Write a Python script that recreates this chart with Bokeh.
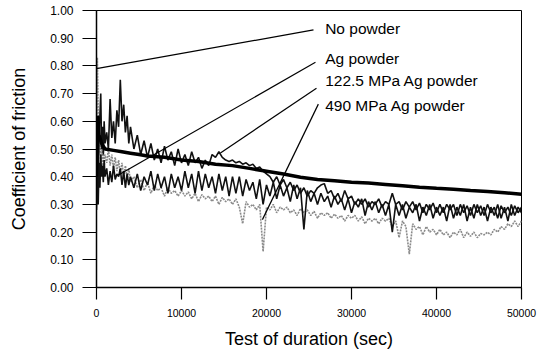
from bokeh.plotting import figure
from bokeh.models import FixedTicker, NumeralTickFormatter
from bokeh.embed import file_html
from bokeh.resources import INLINE

# ---- sample times (s) ----
t_early = list(range(0, 1001, 100)) + list(range(1200, 4001, 200)) + list(range(4400, 50001, 400))

# ---- No powder (smooth thick curve) ----
no_x = [0, 150, 300, 600, 1000, 2000, 3000, 4000, 5000, 6000, 8000, 10000, 12000, 14000,
        16000, 18000, 20000, 22000, 24000, 26000, 28000, 30000, 32000, 34000, 36000, 38000,
        40000, 42000, 44000, 46000, 48000, 50000]
no_y = [0.40, 0.62, 0.55, 0.52, 0.50, 0.495, 0.49, 0.485, 0.48, 0.475, 0.47, 0.46, 0.455, 0.445,
        0.44, 0.43, 0.42, 0.41, 0.398, 0.39, 0.385, 0.38, 0.377, 0.372, 0.367, 0.362,
        0.358, 0.355, 0.35, 0.347, 0.342, 0.337]

# ---- 122.5 MPa Ag powder ----
mpa122_y = [0.30, 0.45, 0.38, 0.55, 0.62, 0.70, 0.50, 0.58, 0.48, 0.60, 0.52,
            0.56, 0.50, 0.68, 0.54, 0.60, 0.52, 0.64, 0.58, 0.75, 0.60, 0.66, 0.56, 0.62, 0.52, 0.58,
            0.50, 0.55, 0.48, 0.53, 0.47, 0.52, 0.46, 0.50, 0.45, 0.51, 0.46, 0.49, 0.44, 0.50, 0.45,
            0.48, 0.44, 0.49, 0.45, 0.47, 0.43, 0.46, 0.44, 0.48, 0.47, 0.49, 0.47, 0.46, 0.455, 0.46,
            0.45, 0.455, 0.445, 0.45, 0.44, 0.445, 0.43, 0.435, 0.42, 0.41, 0.40, 0.38, 0.40, 0.37, 0.39,
            0.36, 0.38, 0.35, 0.37, 0.34, 0.36, 0.33, 0.35, 0.34, 0.36, 0.37, 0.375, 0.34, 0.35, 0.32,
            0.34, 0.31, 0.35, 0.32, 0.33, 0.30, 0.32, 0.30, 0.32, 0.29, 0.31, 0.30, 0.32, 0.29, 0.31,
            0.30, 0.34, 0.30, 0.31, 0.28, 0.31, 0.29, 0.31, 0.28, 0.305, 0.27, 0.30, 0.28, 0.305, 0.27,
            0.30, 0.27, 0.30, 0.28, 0.30, 0.26, 0.30, 0.27, 0.295, 0.26, 0.30, 0.27, 0.295, 0.26, 0.30,
            0.27, 0.29, 0.25, 0.295, 0.27, 0.29, 0.26, 0.295, 0.27, 0.29]

# ---- Ag powder ----
ag_y = [0.28, 0.42, 0.30, 0.45, 0.36, 0.48, 0.40, 0.44, 0.38, 0.46, 0.40,
        0.43, 0.37, 0.42, 0.38, 0.44, 0.39, 0.41, 0.40, 0.43, 0.37, 0.42, 0.36, 0.41, 0.37, 0.40,
        0.36, 0.41, 0.35, 0.40, 0.37, 0.42, 0.35, 0.41, 0.36, 0.40, 0.34, 0.41, 0.36, 0.40, 0.35,
        0.42, 0.36, 0.41, 0.34, 0.42, 0.35, 0.41, 0.36, 0.40, 0.34, 0.41, 0.35, 0.40, 0.33, 0.40,
        0.34, 0.40, 0.33, 0.39, 0.35, 0.38, 0.32, 0.39, 0.30, 0.37, 0.33, 0.38, 0.32, 0.37, 0.33,
        0.36, 0.31, 0.37, 0.32, 0.36, 0.21, 0.35, 0.31, 0.34, 0.30, 0.34, 0.31, 0.33, 0.29, 0.33,
        0.30, 0.32, 0.28, 0.32, 0.27, 0.31, 0.29, 0.32, 0.26, 0.31, 0.28, 0.31, 0.27, 0.30, 0.26,
        0.30, 0.20, 0.30, 0.26, 0.30, 0.25, 0.29, 0.27, 0.30, 0.24, 0.29, 0.26, 0.30, 0.25, 0.29,
        0.26, 0.29, 0.24, 0.30, 0.25, 0.29, 0.26, 0.30, 0.24, 0.29, 0.25, 0.30, 0.26, 0.29, 0.24,
        0.29, 0.26, 0.30, 0.25, 0.29, 0.24, 0.30, 0.26, 0.29, 0.27]

# ---- 490 MPa Ag powder ----
mpa490_y = [0.30, 0.83, 0.62, 0.48, 0.55, 0.45, 0.52, 0.44, 0.50, 0.43, 0.48,
            0.45, 0.50, 0.44, 0.48, 0.43, 0.47, 0.42, 0.46, 0.41, 0.45, 0.40, 0.44, 0.39, 0.43, 0.38,
            0.40, 0.36, 0.39, 0.35, 0.38, 0.34, 0.37, 0.35, 0.36, 0.33, 0.36, 0.34, 0.35, 0.33, 0.35,
            0.33, 0.345, 0.32, 0.34, 0.31, 0.335, 0.32, 0.33, 0.31, 0.33, 0.30, 0.325, 0.31, 0.32, 0.30,
            0.32, 0.29, 0.23, 0.31, 0.29, 0.30, 0.28, 0.30, 0.13, 0.29, 0.28, 0.30, 0.27, 0.29, 0.28,
            0.29, 0.27, 0.28, 0.26, 0.285, 0.27, 0.28, 0.26, 0.275, 0.25, 0.27, 0.26, 0.27, 0.25, 0.265,
            0.25, 0.26, 0.24, 0.26, 0.25, 0.26, 0.24, 0.255, 0.23, 0.25, 0.24, 0.25, 0.23, 0.25, 0.24,
            0.25, 0.22, 0.24, 0.18, 0.24, 0.22, 0.12, 0.23, 0.21, 0.22, 0.19, 0.22, 0.20, 0.21, 0.19,
            0.21, 0.19, 0.20, 0.18, 0.20, 0.19, 0.21, 0.18, 0.20, 0.185, 0.20, 0.18, 0.195, 0.19, 0.20,
            0.19, 0.21, 0.20, 0.22, 0.21, 0.23, 0.22, 0.24, 0.22, 0.24]

# ---- axis ticks ----
x_ticks = [0, 10000, 20000, 30000, 40000, 50000]
y_ticks = [0.0, 0.1, 0.2, 0.3, 0.4, 0.5, 0.6, 0.7, 0.8, 0.9, 1.0]

# ---- annotation labels & leader lines (data coords) ----
label_text = ["No powder", "Ag powder", "122.5 MPa Ag powder", "490 MPa Ag powder"]
label_x = [26900, 26900, 26900, 26900]
label_y = [0.935, 0.827, 0.748, 0.658]
lead_x0 = [25530, 25760, 25880, 26100]
lead_y0 = [0.930, 0.813, 0.719, 0.662]
lead_x1 = [0, 2590, 14580, 19520]
lead_y1 = [0.790, 0.406, 0.486, 0.245]

FONT = "Liberation Sans"

p = figure(width=546, height=351, x_range=(0, 50000), y_range=(0, 1.0),
           output_backend="svg", toolbar_location=None,
           min_border_left=96, min_border_right=25, min_border_top=10, min_border_bottom=63)
p.background_fill_color = "white"
p.border_fill_color = "white"
p.outline_line_color = "black"
p.outline_line_width = 1
p.xgrid.grid_line_color = None
p.ygrid.grid_line_color = None

p.line(t_early, mpa490_y, line_color="#8a8a8a", line_width=1.6, line_dash="2 1")
p.line(t_early, ag_y, line_color="#111111", line_width=1.6)
p.line(t_early, mpa122_y, line_color="#111111", line_width=1.6)
p.line(no_x, no_y, line_color="#000000", line_width=3.5)

p.segment(x0=lead_x0, y0=lead_y0, x1=lead_x1, y1=lead_y1, line_color="black", line_width=1.2)
p.text(x=label_x, y=label_y, text=label_text, text_baseline="middle", text_align="left",
       text_font_size="15.5px", text_color="black", text_font={"value": FONT})

p.xaxis.ticker = FixedTicker(ticks=x_ticks)
p.yaxis.ticker = FixedTicker(ticks=y_ticks)
p.xaxis.formatter = NumeralTickFormatter(format="0")
p.yaxis.formatter = NumeralTickFormatter(format="0.00")
p.axis.minor_tick_line_color = None
p.axis.axis_line_color = "black"
p.axis.axis_line_width = 1.5
p.axis.major_tick_line_color = "black"
p.axis.major_tick_line_width = 1.2
p.axis.major_tick_in = 0
p.xaxis.major_tick_out = 12
p.yaxis.major_tick_out = 14
p.axis.major_label_text_font = FONT
p.axis.major_label_text_color = "black"
p.xaxis.major_label_text_font_size = "10.5px"
p.yaxis.major_label_text_font_size = "12px"
p.xaxis.major_label_standoff = 9
p.yaxis.major_label_standoff = 9

p.xaxis.axis_label = "Test of duration (sec)"
p.yaxis.axis_label = "Coefficient of friction"
p.axis.axis_label_text_font = FONT
p.axis.axis_label_text_font_style = "normal"
p.axis.axis_label_text_font_size = "18px"
p.axis.axis_label_text_color = "black"
p.xaxis.axis_label_standoff = 9
p.yaxis.axis_label_standoff = 18

open("out.html", "w").write(file_html(p, INLINE))
